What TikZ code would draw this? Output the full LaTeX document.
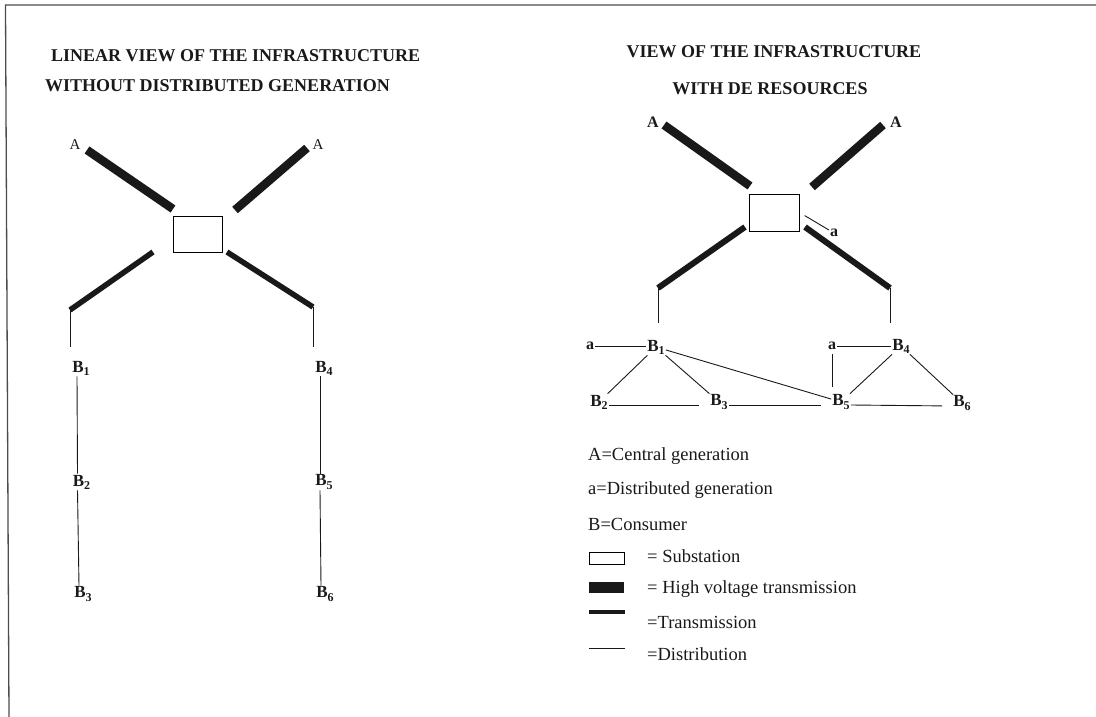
\documentclass[tikz,border=0pt]{standalone}
\usepackage{fontspec}
\setmainfont{Liberation Serif}
\usepackage{tikz}

\newcommand{\cons}[1]{B\raisebox{-0.4ex}{\fontsize{12}{12}\selectfont #1}}

\begin{document}
\begin{tikzpicture}[x=1pt,y=-1pt,
        hv/.style={line width=8.5pt, black!90},
        trans/.style={line width=6pt, black!90},
        dist/.style={line width=0.9pt, black!90},
        title/.style={font=\fontsize{18}{20}\selectfont\bfseries, text=black!90, inner sep=0pt},
        bus/.style={font=\fontsize{17}{19}\selectfont\bfseries, text=black!90, inner sep=1pt},
        gen/.style={font=\fontsize{16}{18}\selectfont\bfseries, text=black!90, inner sep=1pt},
        subst/.style={draw, line width=0.9pt, minimum width=49pt, minimum height=36pt, inner sep=0pt},
        legend/.style={font=\fontsize{18.5}{20}\selectfont, text=black!90, anchor=west, inner sep=0pt}]
        \useasboundingbox (0,0) rectangle (1096,717);
        %\draw[gray] (0,0) grid[step=100] (1096,717);

        % frame
        \draw[line width=1.3pt, black!70] (1096,5) -- (5.5,5) -- (9,717);

        % linear view
        \node[title, anchor=west] (t1) at (51,56) {LINEAR VIEW OF THE INFRASTRUCTURE};
        \node[title, anchor=west] (t2) at (45,86) {WITHOUT DISTRIBUTED GENERATION};

        \node[subst] (S1) at (197.5,234) {};
        \node[gen, font=\fontsize{15}{17}\selectfont] (A1) at (75,145) {A};
        \node[gen, font=\fontsize{15}{17}\selectfont] (A2) at (318,145) {A};

        \coordinate (h1) at (87,150);   \coordinate (h1e) at (173,209);
        \coordinate (h2) at (307,148);  \coordinate (h2e) at (235,210);
        \coordinate (r1) at (153,252);  \coordinate (r1e) at (70,310);
        \coordinate (r2) at (227,252);  \coordinate (r2e) at (313,307);
        \draw[hv] (h1) -- (h1e);
        \draw[hv] (h2) -- (h2e);
        \draw[trans, line width=5.5pt] (r1) -- (r1e);
        \draw[trans, line width=5.5pt] (r2) -- (r2e);
        \draw[dist] (r1e) -- ++(0,37);
        \draw[dist] (r2e) -- ++(0,40);

        \node[bus] (L1) at (81,368) {\cons{1}};
        \node[bus] (L2) at (81.5,482) {\cons{2}};
        \node[bus] (L3) at (83,594) {\cons{3}};
        \node[bus] (L4) at (324,368) {\cons{4}};
        \node[bus] (L5) at (324,482) {\cons{5}};
        \node[bus] (L6) at (325,594) {\cons{6}};
        \draw[dist] ([xshift=-4]L1.south) -- ([xshift=-4]L2.north);
        \draw[dist] ([xshift=-4]L2.south) -- ([xshift=-4]L3.north);
        \draw[dist] ([xshift=-4]L4.south) -- ([xshift=-4]L5.north);
        \draw[dist] ([xshift=-4]L5.south) -- ([xshift=-4]L6.north);

        % view with DE resources
        \node[title] (t3) at (774,52) {VIEW OF THE INFRASTRUCTURE};
        \node[title] (t4) at (770,89) {WITH DE RESOURCES};

        \node[subst, minimum width=50pt, minimum height=37pt] (S2) at (774,212.5) {};
        \node[gen] (A3) at (653,122) {A};
        \node[gen] (A4) at (896,122) {A};
        \node[gen] (aS) at (834,233) {a};
        \draw[dist, shorten <=6pt] (S2.east) -- (aS);

        \coordinate (h3) at (664,125);  \coordinate (h3e) at (750,186);
        \coordinate (h4) at (883,125);  \coordinate (h4e) at (812,187);
        \coordinate (r3) at (745,227);  \coordinate (r3e) at (658,288);
        \coordinate (r4) at (805,227);  \coordinate (r4e) at (890,288);
        \draw[hv] (h3) -- (h3e);
        \draw[hv] (h4) -- (h4e);
        \draw[trans] (r3) -- (r3e);
        \draw[trans] (r4) -- (r4e);
        \draw[dist] (r3e) -- ++(0,35);
        \draw[dist] (r4e) -- ++(0,35);

        \node[bus] (R1) at (656,347) {\cons{1}};
        \node[bus] (R2) at (599,402) {\cons{2}};
        \node[bus] (R3) at (719,402) {\cons{3}};
        \node[bus] (R4) at (901,346) {\cons{4}};
        \node[bus] (R5) at (841,402) {\cons{5}};
        \node[bus] (R6) at (962,403) {\cons{6}};
        \node[gen] (aL) at (590,346) {a};
        \node[gen] (aR) at (832,346) {a};

        \draw[dist] (aL) -- (aL -| R1.west);
        \draw[dist] (aR) -- (aR -| R4.west);
        \draw[dist] ([yshift=-3]aR.south) -- ([yshift=7]aR.south |- R5.north);
        \draw[dist] (R1) -- (R2);
        \draw[dist] (R1) -- (R3);
        \draw[dist] (R1) -- (R5);
        \draw[dist] (R4) -- (R5);
        \draw[dist] (R4) -- (R6);
        \draw[dist, shorten >=10pt] ([yshift=-3]R2.east) -- ([yshift=-3]R3.west);
        \draw[dist, shorten >=10pt] ([yshift=-3]R3.east) -- ([yshift=-3]R5.west);
        \draw[dist, shorten >=10pt] ([yshift=-3]R5.east) -- ([yshift=-3]R6.west);

        % legend
        \node[legend] (k1) at (588,456) {A=Central generation};
        \node[legend] (k2) at (588,490) {a=Distributed generation};
        \node[legend] (k3) at (588,524) {B=Consumer};
        \node[draw, line width=0.9pt, minimum width=35pt, minimum height=12pt, inner sep=0pt] (ks) at (606.5,558) {};
        \node[fill=black!90, minimum width=35pt, minimum height=11pt, inner sep=0pt] (kh) at (606.5,587.5) {};
        \draw[line width=4pt, black!90] (589,612) -- (625,612);
        \draw[dist] (589,648) -- (625,648);
        \node[legend] (k4) at (647,556) {= Substation};
        \node[legend] (k5) at (647,589) {= High voltage transmission};
        \node[legend] (k6) at (647,622) {=Transmission};
        \node[legend] (k7) at (647,654) {=Distribution};
    \end{tikzpicture}
\end{document}
